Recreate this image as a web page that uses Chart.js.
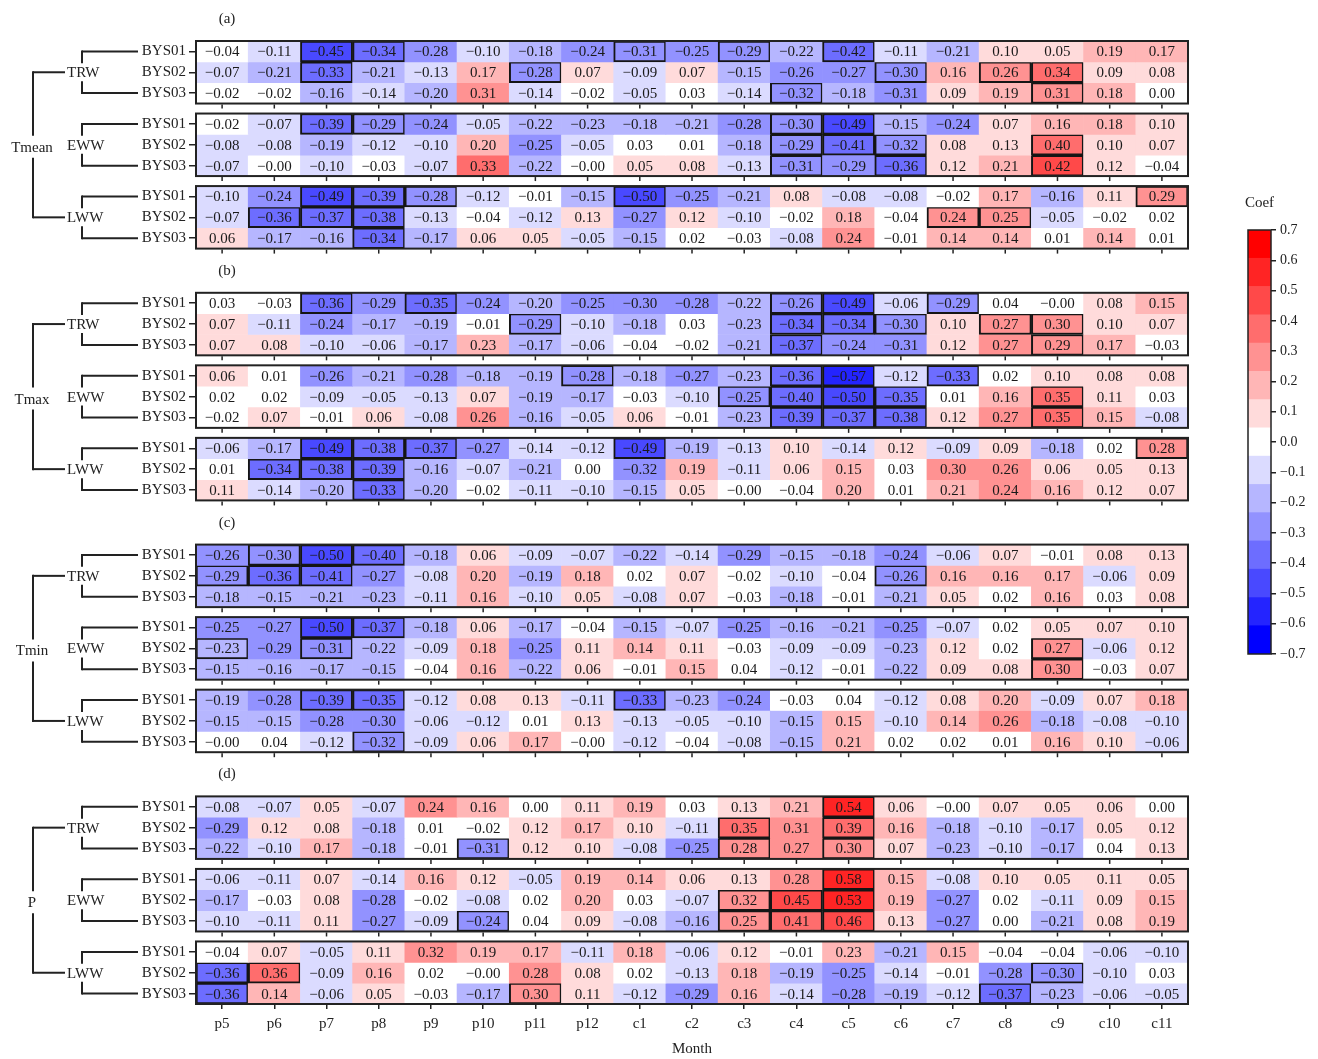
<!DOCTYPE html>
<html>
<head>
<meta charset="utf-8">
<script src="https://cdn.jsdelivr.net/npm/chart.js@4.4.1/dist/chart.umd.min.js"></script>
<style>
  html, body { margin: 0; padding: 0; background: #fff; }
  #wrap { position: relative; width: 1318px; height: 1059px; overflow: hidden; }
  #heat { position: absolute; left: 0; top: 0; }
  #cbar { position: absolute; left: 1200px; top: 180px; }
</style>
</head>
<body>
<div id="wrap">
  <canvas id="heat" width="1318" height="1059"></canvas>
  <canvas id="cbar" width="118" height="500"></canvas>
</div>
<script>
// ---- categories ----
const months = ['p5','p6','p7','p8','p9','p10','p11','p12','c1','c2','c3','c4','c5','c6','c7','c8','c9','c10','c11'];
const stations = ['BYS01','BYS02','BYS03'];
const ringWidths = ['TRW','EWW','LWW'];
const climateVars = ['Tmean','Tmax','Tmin','P'];
const panelTags = ['(a)','(b)','(c)','(d)'];
const colorbarTicks = [-0.7,-0.6,-0.5,-0.4,-0.3,-0.2,-0.1,0.0,0.1,0.2,0.3,0.4,0.5,0.6,0.7];

// ---- correlation coefficients (rows: BYS01, BYS02, BYS03) ----
const tmeanTRW = [
  [-0.04,-0.11,-0.45,-0.34,-0.28,-0.10,-0.18,-0.24,-0.31,-0.25,-0.29,-0.22,-0.42,-0.11,-0.21,0.10,0.05,0.19,0.17],
  [-0.07,-0.21,-0.33,-0.21,-0.13,0.17,-0.28,0.07,-0.09,0.07,-0.15,-0.26,-0.27,-0.30,0.16,0.26,0.34,0.09,0.08],
  [-0.02,-0.02,-0.16,-0.14,-0.20,0.31,-0.14,-0.02,-0.05,0.03,-0.14,-0.32,-0.18,-0.31,0.09,0.19,0.31,0.18,0.00]];
const tmeanEWW = [
  [-0.02,-0.07,-0.39,-0.29,-0.24,-0.05,-0.22,-0.23,-0.18,-0.21,-0.28,-0.30,-0.49,-0.15,-0.24,0.07,0.16,0.18,0.10],
  [-0.08,-0.08,-0.19,-0.12,-0.10,0.20,-0.25,-0.05,0.03,0.01,-0.18,-0.29,-0.41,-0.32,0.08,0.13,0.40,0.10,0.07],
  [-0.07,-0.00,-0.10,-0.03,-0.07,0.33,-0.22,-0.00,0.05,0.08,-0.13,-0.31,-0.29,-0.36,0.12,0.21,0.42,0.12,-0.04]];
const tmeanLWW = [
  [-0.10,-0.24,-0.49,-0.39,-0.28,-0.12,-0.01,-0.15,-0.50,-0.25,-0.21,0.08,-0.08,-0.08,-0.02,0.17,-0.16,0.11,0.29],
  [-0.07,-0.36,-0.37,-0.38,-0.13,-0.04,-0.12,0.13,-0.27,0.12,-0.10,-0.02,0.18,-0.04,0.24,0.25,-0.05,-0.02,0.02],
  [0.06,-0.17,-0.16,-0.34,-0.17,0.06,0.05,-0.05,-0.15,0.02,-0.03,-0.08,0.24,-0.01,0.14,0.14,0.01,0.14,0.01]];

const tmaxTRW = [
  [0.03,-0.03,-0.36,-0.29,-0.35,-0.24,-0.20,-0.25,-0.30,-0.28,-0.22,-0.26,-0.49,-0.06,-0.29,0.04,-0.00,0.08,0.15],
  [0.07,-0.11,-0.24,-0.17,-0.19,-0.01,-0.29,-0.10,-0.18,0.03,-0.23,-0.34,-0.34,-0.30,0.10,0.27,0.30,0.10,0.07],
  [0.07,0.08,-0.10,-0.06,-0.17,0.23,-0.17,-0.06,-0.04,-0.02,-0.21,-0.37,-0.24,-0.31,0.12,0.27,0.29,0.17,-0.03]];
const tmaxEWW = [
  [0.06,0.01,-0.26,-0.21,-0.28,-0.18,-0.19,-0.28,-0.18,-0.27,-0.23,-0.36,-0.57,-0.12,-0.33,0.02,0.10,0.08,0.08],
  [0.02,0.02,-0.09,-0.05,-0.13,0.07,-0.19,-0.17,-0.03,-0.10,-0.25,-0.40,-0.50,-0.35,0.01,0.16,0.35,0.11,0.03],
  [-0.02,0.07,-0.01,0.06,-0.08,0.26,-0.16,-0.05,0.06,-0.01,-0.23,-0.39,-0.37,-0.38,0.12,0.27,0.35,0.15,-0.08]];
const tmaxLWW = [
  [-0.06,-0.17,-0.49,-0.38,-0.37,-0.27,-0.14,-0.12,-0.49,-0.19,-0.13,0.10,-0.14,0.12,-0.09,0.09,-0.18,0.02,0.28],
  [0.01,-0.34,-0.38,-0.39,-0.16,-0.07,-0.21,0.00,-0.32,0.19,-0.11,0.06,0.15,0.03,0.30,0.26,0.06,0.05,0.13],
  [0.11,-0.14,-0.20,-0.33,-0.20,-0.02,-0.11,-0.10,-0.15,0.05,-0.00,-0.04,0.20,0.01,0.21,0.24,0.16,0.12,0.07]];

const tminTRW = [
  [-0.26,-0.30,-0.50,-0.40,-0.18,0.06,-0.09,-0.07,-0.22,-0.14,-0.29,-0.15,-0.18,-0.24,-0.06,0.07,-0.01,0.08,0.13],
  [-0.29,-0.36,-0.41,-0.27,-0.08,0.20,-0.19,0.18,0.02,0.07,-0.02,-0.10,-0.04,-0.26,0.16,0.16,0.17,-0.06,0.09],
  [-0.18,-0.15,-0.21,-0.23,-0.11,0.16,-0.10,0.05,-0.08,0.07,-0.03,-0.18,-0.01,-0.21,0.05,0.02,0.16,0.03,0.08]];
const tminEWW = [
  [-0.25,-0.27,-0.50,-0.37,-0.18,0.06,-0.17,-0.04,-0.15,-0.07,-0.25,-0.16,-0.21,-0.25,-0.07,0.02,0.05,0.07,0.10],
  [-0.23,-0.29,-0.31,-0.22,-0.09,0.18,-0.25,0.11,0.14,0.11,-0.03,-0.09,-0.09,-0.23,0.12,0.02,0.27,-0.06,0.12],
  [-0.15,-0.16,-0.17,-0.15,-0.04,0.16,-0.22,0.06,-0.01,0.15,0.04,-0.12,-0.01,-0.22,0.09,0.08,0.30,-0.03,0.07]];
const tminLWW = [
  [-0.19,-0.28,-0.39,-0.35,-0.12,0.08,0.13,-0.11,-0.33,-0.23,-0.24,-0.03,0.04,-0.12,0.08,0.20,-0.09,0.07,0.18],
  [-0.15,-0.15,-0.28,-0.30,-0.06,-0.12,0.01,0.13,-0.13,-0.05,-0.10,-0.15,0.15,-0.10,0.14,0.26,-0.18,-0.08,-0.10],
  [-0.00,0.04,-0.12,-0.32,-0.09,0.06,0.17,-0.00,-0.12,-0.04,-0.08,-0.15,0.21,0.02,0.02,0.01,0.16,0.10,-0.06]];

const precTRW = [
  [-0.08,-0.07,0.05,-0.07,0.24,0.16,0.00,0.11,0.19,0.03,0.13,0.21,0.54,0.06,-0.00,0.07,0.05,0.06,0.00],
  [-0.29,0.12,0.08,-0.18,0.01,-0.02,0.12,0.17,0.10,-0.11,0.35,0.31,0.39,0.16,-0.18,-0.10,-0.17,0.05,0.12],
  [-0.22,-0.10,0.17,-0.18,-0.01,-0.31,0.12,0.10,-0.08,-0.25,0.28,0.27,0.30,0.07,-0.23,-0.10,-0.17,0.04,0.13]];
const precEWW = [
  [-0.06,-0.11,0.07,-0.14,0.16,0.12,-0.05,0.19,0.14,0.06,0.13,0.28,0.58,0.15,-0.08,0.10,0.05,0.11,0.05],
  [-0.17,-0.03,0.08,-0.28,-0.02,-0.08,0.02,0.20,0.03,-0.07,0.32,0.45,0.53,0.19,-0.27,0.02,-0.11,0.09,0.15],
  [-0.10,-0.11,0.11,-0.27,-0.09,-0.24,0.04,0.09,-0.08,-0.16,0.25,0.41,0.46,0.13,-0.27,0.00,-0.21,0.08,0.19]];
const precLWW = [
  [-0.04,0.07,-0.05,0.11,0.32,0.19,0.17,-0.11,0.18,-0.06,0.12,-0.01,0.23,-0.21,0.15,-0.04,-0.04,-0.06,-0.10],
  [-0.36,0.36,-0.09,0.16,0.02,-0.00,0.28,0.08,0.02,-0.13,0.18,-0.19,-0.25,-0.14,-0.01,-0.28,-0.30,-0.10,0.03],
  [-0.36,0.14,-0.06,0.05,-0.03,-0.17,0.30,0.11,-0.12,-0.29,0.16,-0.14,-0.28,-0.19,-0.12,-0.37,-0.23,-0.06,-0.05]];

// ---- significant months per row (outlined cells) ----
const sigTmeanTRW = [['p7','p8','c1','c3','c5'], ['p7','p11','c6','c8','c9'], ['c4','c9']];
const sigTmeanEWW = [['p7','p8','c4','c5'], ['c4','c5','c6','c9'], ['c4','c6','c9']];
const sigTmeanLWW = [['p7','p8','p9','c1','c11'], ['p6','p7','p8','c7','c8'], ['p8']];
const sigTmaxTRW = [['p7','p9','c4','c5','c7'], ['p11','c4','c5','c6','c8','c9'], ['c4','c9']];
const sigTmaxEWW = [['p12','c4','c5','c7'], ['c3','c4','c5','c6','c9'], ['c4','c5','c6','c9']];
const sigTmaxLWW = [['p7','p8','p9','c1','c11'], ['p6','p7','p8'], ['p8']];
const sigTminTRW = [['p6','p7','p8'], ['p5','p6','p7','c6'], []];
const sigTminEWW = [['p7','p8'], ['p5','p7','c9'], ['c9']];
const sigTminLWW = [['p7','p8','c1'], [], ['p8']];
const sigPrecTRW = [['c5'], ['c3','c5'], ['p10','c3','c5']];
const sigPrecEWW = [['c5'], ['c3','c4','c5'], ['p10','c3','c4','c5']];
const sigPrecLWW = [[], ['p5','p6','c9'], ['p5','p11','c8']];

const panels = [
  { values: [tmeanTRW, tmeanEWW, tmeanLWW], sig: [sigTmeanTRW, sigTmeanEWW, sigTmeanLWW] },
  { values: [tmaxTRW, tmaxEWW, tmaxLWW],    sig: [sigTmaxTRW, sigTmaxEWW, sigTmaxLWW] },
  { values: [tminTRW, tminEWW, tminLWW],    sig: [sigTminTRW, sigTminEWW, sigTminLWW] },
  { values: [precTRW, precEWW, precLWW],    sig: [sigPrecTRW, sigPrecEWW, sigPrecLWW] }
];

// ---- colour map: bwr split into 15 discrete levels over [-0.7, 0.7] ----
const VMIN = -0.7, VMAX = 0.7, NLEV = 15;
function levelColor(i) {
  const t = i / (NLEV - 1);
  let r, g, b;
  if (t < 0.5) { const s = t * 2; r = g = Math.round(255 * s); b = 255; }
  else { const s = (1 - t) * 2; r = 255; g = b = Math.round(255 * s); }
  return `rgb(${r},${g},${b})`;
}
function cellColor(v) {
  let i = Math.floor((v - VMIN) / (VMAX - VMIN) * NLEV + 1e-9);
  i = Math.max(0, Math.min(NLEV - 1, i));
  return levelColor(i);
}
function fmt2(v) {
  const neg = v < 0 || Object.is(v, -0);
  return (neg ? '\u2212' : '') + Math.abs(v).toFixed(2);
}
function fmt1(v) {
  const r = Math.round(v * 10) / 10;
  return (r < 0 ? '\u2212' : '') + Math.abs(r).toFixed(1);
}

// ---- vertical layout in row units ----
const GROUP_GAP = 0.48, PANEL_GAP = 2.12;
const PANEL_SPAN = 9 + 2 * GROUP_GAP;
const Y_TOTAL = 4 * PANEL_SPAN + 3 * PANEL_GAP;
const rowTop = (p, g, r) => p * (PANEL_SPAN + PANEL_GAP) + g * (3 + GROUP_GAP) + r;

const SERIF = "'Liberation Serif', 'DejaVu Serif', serif";
const INK = '#222';
Chart.defaults.font.family = SERIF;

// ---- datasets: one floating-bar row per station ----
const datasets = [];
const rowCenters = [];
panels.forEach((panel, p) => {
  panel.values.forEach((rows, g) => {
    rows.forEach((vals, r) => {
      const top = rowTop(p, g, r);
      rowCenters.push(top + 0.5);
      const sig = panel.sig[g][r];
      datasets.push({
        data: months.map(() => [top, top + 1]),
        cellValues: vals,
        backgroundColor: vals.map(cellColor),
        borderColor: '#151515',
        borderWidth: months.map(m => sig.includes(m) ? 2 : 0),
        borderSkipped: false,
        grouped: false,
        barPercentage: 1,
        categoryPercentage: 1
      });
    });
  });
});

const cellText = {
  id: 'cellText',
  afterDatasetsDraw(chart) {
    const ctx = chart.ctx;
    ctx.save();
    ctx.font = `15px ${SERIF}`;
    ctx.fillStyle = '#1a1a1a';
    ctx.textAlign = 'center';
    ctx.textBaseline = 'middle';
    chart.data.datasets.forEach((ds, i) => {
      chart.getDatasetMeta(i).data.forEach((el, j) => {
        const { x, y, base } = el.getProps(['x', 'y', 'base'], true);
        ctx.fillText(fmt2(ds.cellValues[j]), x, (y + base) / 2 + 1);
      });
    });
    ctx.restore();
  }
};

const frames = {
  id: 'frames',
  afterDraw(chart) {
    const ctx = chart.ctx;
    const xs = chart.scales.x, ys = chart.scales.y;
    const L = chart.chartArea.left, R = chart.chartArea.right;
    ctx.save();
    ctx.strokeStyle = INK;
    ctx.lineCap = 'butt';
    const line = (x1, y1, x2, y2) => { ctx.beginPath(); ctx.moveTo(x1, y1); ctx.lineTo(x2, y2); ctx.stroke(); };

    panels.forEach((panel, p) => {
      for (let g = 0; g < 3; g++) {
        const t = ys.getPixelForValue(rowTop(p, g, 0));
        const b = ys.getPixelForValue(rowTop(p, g, 3));
        ctx.lineWidth = 2;
        ctx.strokeRect(L, t, R - L, b - t);
        // month ticks under inner group frames
        if (!(p === 3 && g === 2)) {
          ctx.lineWidth = 1.5;
          months.forEach((m, i) => {
            const x = xs.getPixelForValue(i);
            line(x, b + 1, x, b + 5);
          });
        }
      }

      // dendrogram: station brackets
      const mid = (g, r) => ys.getPixelForValue(rowTop(p, g, r) + 0.5);
      ctx.lineWidth = 2;
      ctx.font = `15px ${SERIF}`;
      ctx.fillStyle = INK;
      ctx.textBaseline = 'middle';
      for (let g = 0; g < 3; g++) {
        const y1 = mid(g, 0), y2 = mid(g, 1), y3 = mid(g, 2);
        line(138, y1, 82, y1);
        line(82, y1 - 1, 82, y2 - 9);
        line(82, y2 + 9, 82, y3 + 1);
        line(82, y3, 138, y3);
        ctx.textAlign = 'left';
        ctx.fillText(ringWidths[g], 67, y2 + 1);
      }
      // dendrogram: ring-width branches
      const ya = mid(0, 1), yb = mid(1, 1) + 2, yc = mid(2, 1);
      line(65, ya, 33, ya);
      line(33, ya - 1, 33, yb - 11);
      line(33, yb + 11, 33, yc + 1);
      line(33, yc, 65, yc);
      ctx.textAlign = 'center';
      ctx.fillText(climateVars[p], 32, yb + 1);

      // panel tag
      ctx.fillText(panelTags[p], 227, ys.getPixelForValue(rowTop(p, 0, 0)) - 22);
    });
    ctx.restore();
  }
};

new Chart(document.getElementById('heat'), {
  type: 'bar',
  data: { labels: months, datasets },
  options: {
    responsive: false,
    animation: false,
    devicePixelRatio: 1,
    layout: { padding: { left: 0, top: 41, right: 130, bottom: 0 } },
    plugins: { legend: { display: false }, tooltip: { enabled: false } },
    scales: {
      x: {
        type: 'category',
        offset: true,
        grid: { offset: false, drawOnChartArea: false, drawTicks: true, tickLength: 5, color: INK, lineWidth: 1.5 },
        border: { display: false },
        ticks: { font: { size: 15 }, color: INK, padding: 6, autoSkip: false, maxRotation: 0 },
        title: { display: true, text: 'Month', font: { size: 15 }, color: INK, padding: { top: 4, bottom: 1 } },
        afterFit(s) { s.height = 55; }
      },
      y: {
        type: 'linear',
        reverse: true,
        min: 0,
        max: Y_TOTAL,
        afterBuildTicks(s) { s.ticks = rowCenters.map(v => ({ value: v })); },
        ticks: { callback: (v, i) => stations[i % 3], font: { size: 15 }, color: INK, padding: 3, autoSkip: false },
        grid: { drawOnChartArea: false, drawTicks: true, tickLength: 7, color: INK, lineWidth: 1.5 },
        border: { display: false },
        afterFit(s) { s.width = 196; }
      }
    }
  },
  plugins: [cellText, frames]
});

// ---- colour bar ----
const step = (VMAX - VMIN) / NLEV;
const barDatasets = [];
for (let i = 0; i < NLEV; i++) {
  barDatasets.push({
    data: [[VMIN + i * step, VMIN + (i + 1) * step]],
    backgroundColor: levelColor(i),
    borderWidth: 0,
    grouped: false,
    barPercentage: 1,
    categoryPercentage: 1
  });
}
const barFrame = {
  id: 'barFrame',
  afterDraw(chart) {
    const { ctx, chartArea: a } = chart;
    ctx.save();
    ctx.strokeStyle = INK;
    ctx.lineWidth = 1.5;
    ctx.strokeRect(a.left, a.top, a.right - a.left, a.bottom - a.top);
    ctx.font = `15px ${SERIF}`;
    ctx.fillStyle = INK;
    ctx.textAlign = 'center';
    ctx.textBaseline = 'middle';
    ctx.fillText('Coef', (a.left + a.right) / 2, a.top - 27);
    ctx.restore();
  }
};
new Chart(document.getElementById('cbar'), {
  type: 'bar',
  data: { labels: [''], datasets: barDatasets },
  options: {
    responsive: false,
    animation: false,
    devicePixelRatio: 1,
    layout: { padding: { left: 48, top: 50, right: 0, bottom: 26 } },
    plugins: { legend: { display: false }, tooltip: { enabled: false } },
    scales: {
      x: { display: false, offset: true },
      y: {
        position: 'right',
        min: VMIN,
        max: VMAX,
        afterBuildTicks(s) { s.ticks = colorbarTicks.map(v => ({ value: v })); },
        ticks: { callback: v => fmt1(v), font: { size: 14 }, color: INK, padding: 4, autoSkip: false },
        grid: { drawOnChartArea: false, drawTicks: true, tickLength: 5, color: INK, lineWidth: 1.5 },
        border: { display: false },
        afterFit(s) { s.width = 47; }
      }
    }
  },
  plugins: [barFrame]
});
</script>
</body>
</html>
